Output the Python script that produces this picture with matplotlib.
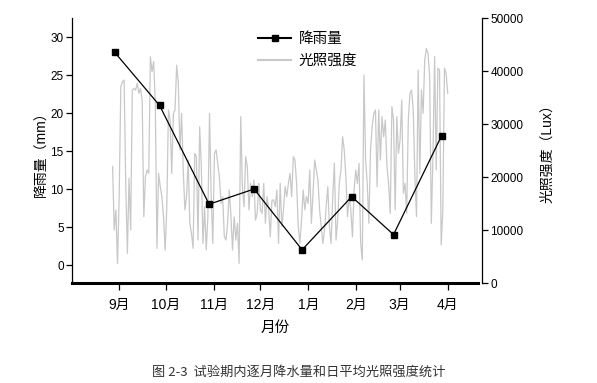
import numpy as np
import matplotlib
matplotlib.use("Agg")
import matplotlib.pyplot as plt
from matplotlib.lines import Line2D

plt.rcParams['font.family'] = ['Liberation Sans', 'Noto Sans CJK SC', 'DejaVu Sans']

# month ticks (days counted from 1 Sep)
month_labels = ['9月', '10月', '11月', '12月', '1月', '2月', '3月', '4月']
month_tick_days = [15, 45, 76, 106, 137, 168, 196, 227]

# monthly rainfall (mm)
rain_days = [12, 41, 73, 102, 133, 165, 192, 223]
rain_mm = [28, 21, 8, 10, 2, 9, 4, 17]

# daily mean light intensity (Lux)
light_start_day = 10.7
light_end_day = 227
light_lux = [
    22000, 10000, 13800, 3700, 16300, 37000, 38000, 38300, 18800, 5600,
    19750, 10000, 36400, 36700, 36400, 37700, 35800, 36700, 34500, 12500,
    20100, 21300, 20700, 42700, 39900, 41800, 33900, 6540, 20700, 18200,
    16300, 12500, 6230, 14400, 32650, 30760, 20700, 32000, 32650, 41100,
    37700, 25100, 32000, 21300, 13800, 16300, 23200, 11260, 9370, 6540,
    24470, 23840, 8110, 29500, 22000, 7480, 14400, 6230, 12500, 32000,
    16300, 7480, 24470, 25100, 22580, 20060, 15030, 16300, 8740, 8110,
    11260, 17550, 12830, 6230, 12500, 8110, 11260, 3710, 31400, 18200,
    14400, 23840, 22000, 13800, 18800, 16300, 19440, 11890, 13150,
    18800, 13800, 13150, 18800, 11260, 16300, 13800, 8740, 15660, 15660,
    14400, 17550, 7480, 18800, 10630, 13800, 18180, 16300, 18800, 20700,
    16300, 23840, 23210, 18800, 10630, 7480, 11890, 17550, 13800, 16300,
    15030, 21330, 11260, 16920, 23210, 21330, 19440, 13800, 10630, 7480,
    9990, 14400, 18180, 10630, 7480, 16300, 22580, 8110, 11890, 18800,
    21330, 27610, 25100, 20060, 12520, 16300, 13800, 8740, 17550, 21330,
    18800, 22580, 7480, 4340, 39250, 23210, 18800, 11260, 25100, 29500,
    32020, 32650, 18180, 32650, 23210, 31390, 27610, 30760, 21950, 18800,
    13150, 33280, 30760, 13800, 31390, 24470, 26990, 34530, 16920, 18800,
    13150, 30760, 35790, 36420, 32650, 20060, 12520, 40190, 20700, 36420,
    32020, 42080, 44280, 43340, 38940, 11260, 23840, 42710, 21330, 40510,
    40190, 7170, 13780, 40510, 39570, 35790,
]

fig = plt.figure(figsize=(5.97, 3.83), dpi=100)
ax = fig.add_axes([0.1206, 0.261, 0.680, 0.692])
ax2 = ax.twinx()

light_days = np.linspace(light_start_day, light_end_day, len(light_lux))
ax2.plot(light_days, light_lux, color='#c8c8c8', lw=0.9)
ax2.set_ylim(0, 50000)
ax2.set_yticks([0, 10000, 20000, 30000, 40000, 50000])
ax2.set_ylabel('光照强度（Lux）', fontsize=10, labelpad=12)

ax.plot(rain_days, rain_mm, color='black', lw=0.9, marker='s', ms=5,
        mfc='black', mec='black', zorder=5)
ax.set_zorder(ax2.get_zorder() + 1)
ax.patch.set_visible(False)

ax.set_ylim(-2.37, 32.5)
ax.set_yticks([0, 5, 10, 15, 20, 25, 30])
ax.set_xlim(-15.5, 246.5)
ax.set_xticks(month_tick_days)
ax.set_xticklabels(month_labels, fontsize=10)
ax.set_xlabel('月份', fontsize=10.5, labelpad=6)
ax.set_ylabel('降雨量（mm）', fontsize=10, labelpad=1)

for a in (ax, ax2):
    a.spines['top'].set_visible(False)
ax.spines['right'].set_visible(False)
ax2.spines['left'].set_visible(False)
ax2.spines['bottom'].set_visible(False)
ax2.spines['right'].set_position(('outward', 3))
ax.spines['bottom'].set_linewidth(2.2)
ax.spines['left'].set_linewidth(0.9)
ax2.spines['right'].set_linewidth(0.9)

ax.tick_params(axis='y', labelsize=8.5, length=4, width=0.9, pad=2)
ax.tick_params(axis='x', length=5, width=0.9, pad=6)
ax2.tick_params(axis='y', labelsize=8.5, length=4, width=0.9, pad=2)

handles = [
    Line2D([], [], color='black', lw=1.5, marker='s', ms=5),
    Line2D([], [], color='#c8c8c8', lw=1.5),
]
fig.legend(handles, ['降雨量', '光照强度'], loc='upper left',
           bbox_to_anchor=(0.41, 0.95), frameon=False, fontsize=10.5,
           handlelength=2.3, handletextpad=0.5, labelspacing=0.55)

fig.text(0.5, 0.02, '图 2-3  试验期内逐月降水量和日平均光照强度统计',
         ha='center', fontsize=9.5, color='#333333',
         family=['Noto Sans CJK SC', 'DejaVu Sans'])

fig.savefig('out.png', dpi=100)
